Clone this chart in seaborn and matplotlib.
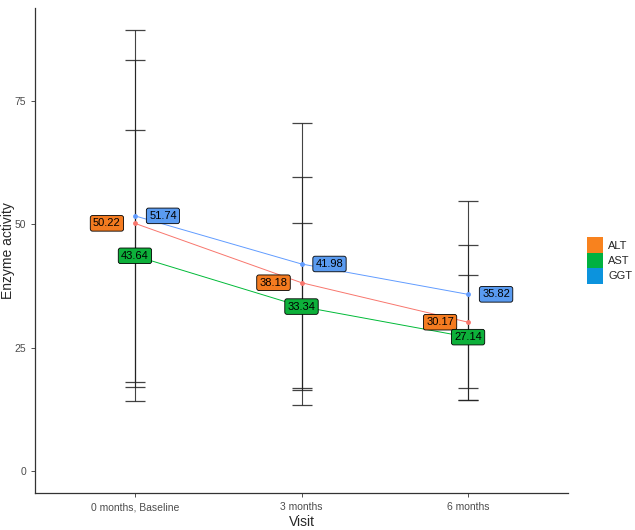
import pandas as pd
import matplotlib
matplotlib.use("Agg")
import matplotlib.pyplot as plt
import seaborn as sns
from matplotlib.patches import Patch

# Data
visits = ["0 months, Baseline", "3 months", "6 months"]
alt_mean = [50.22, 38.18, 30.17]
ast_mean = [43.64, 33.34, 27.14]
ggt_mean = [51.74, 41.98, 35.82]
alt_sd = [33.1, 21.4, 15.7]
ast_sd = [25.6, 17.0, 12.7]
ggt_sd = [37.6, 28.6, 18.9]

enzymes = ["ALT", "AST", "GGT"]
line_colors = {"ALT": "#F8766D", "AST": "#00BA38", "GGT": "#619CFF"}
label_fill = {"ALT": "#F47B20", "AST": "#0DB03A", "GGT": "#5A9BF0"}
legend_fill = {"ALT": "#F8821E", "AST": "#00B140", "GGT": "#0C93DD"}
label_dx = {"ALT": -28, "AST": 0, "GGT": 28}  # pixel offsets of the labels

rows = []
for name, means, sds in [("ALT", alt_mean, alt_sd), ("AST", ast_mean, ast_sd), ("GGT", ggt_mean, ggt_sd)]:
    for i, v in enumerate(visits):
        rows.append({"enzyme": name, "visit": v, "pos": i, "mean": means[i], "sd": sds[i]})
df = pd.DataFrame(rows)

sns.set_style("ticks")
plt.rcParams["font.family"] = ["Liberation Sans", "DejaVu Sans"]

fig = plt.figure(figsize=(6.35, 5.3), dpi=100)
ax = fig.add_axes([35 / 635, 37 / 530, 533 / 635, 485 / 530])

# error bars (mean +/- sd)
for name in enzymes:
    sub = df[df["enzyme"] == name]
    ax.errorbar(sub["pos"], sub["mean"], yerr=sub["sd"], fmt="none",
                ecolor="#222222", elinewidth=0.8, capsize=7, capthick=0.9, alpha=0.85, zorder=1)

sns.lineplot(data=df, x="pos", y="mean", hue="enzyme", hue_order=enzymes,
             palette=line_colors, marker="o", markersize=3.5, markeredgewidth=0,
             linewidth=0.7, legend=False, ax=ax, zorder=2)

# value labels
for _, r in df.iterrows():
    ax.annotate(f"{r['mean']:.2f}", (r["pos"], r["mean"]),
                xytext=(label_dx[r["enzyme"]], 0), textcoords="offset pixels",
                ha="center", va="center", fontsize=8, color="black", zorder=5,
                bbox=dict(boxstyle="round,pad=0.25,rounding_size=0.2",
                          fc=label_fill[r["enzyme"]], ec="black", lw=0.6))

ax.set_xlim(-0.6, 2.6)
ax.set_ylim(-4.47, 93.9)
ax.set_xticks(range(len(visits)))
ax.set_xticklabels(visits)
ax.set_yticks([0, 25, 50, 75])
ax.tick_params(axis="both", labelsize=7.5, labelcolor="#4D4D4D", color="#333333",
               length=3, width=0.6)
ax.set_xlabel("Visit", fontsize=10, labelpad=2)
ax.set_ylabel("Enzyme activity", fontsize=10)
ax.yaxis.set_label_coords(-0.038, 0.5)
for side in ["left", "bottom"]:
    ax.spines[side].set_linewidth(0.9)
    ax.spines[side].set_color("#333333")
sns.despine(ax=ax)

handles = [Patch(facecolor=legend_fill[e], edgecolor="none", label=e) for e in enzymes]
fig.legend(handles=handles, loc="center left", bbox_to_anchor=(587 / 635, 0.5085),
           frameon=False, fontsize=8, handlelength=1.4, handleheight=1.75,
           handletextpad=0.5, labelspacing=0.0, borderpad=0, borderaxespad=0)

plt.savefig("out.png", dpi=100)
